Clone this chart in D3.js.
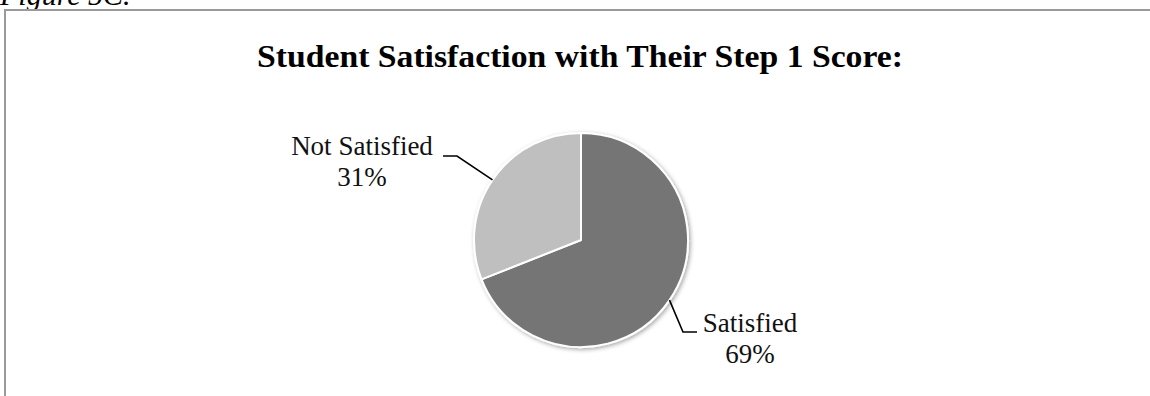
<!DOCTYPE html>
<html>
<head>
<meta charset="utf-8">
<script src="https://cdn.jsdelivr.net/npm/d3@7"></script>
<style>
  html, body { margin: 0; padding: 0; background: #fff; }
  svg { display: block; }
</style>
</head>
<body>
<svg id="chart" width="1150" height="396"></svg>
<script>
// Survey answers and their shares (percent)
const categories = ["Satisfied", "Not Satisfied"];
const shares = [69, 31];
const sliceColors = ["#757575", "#bfbfbf"];

const W = 1150, H = 396;
const cx = 581, cy = 240, radius = 107;

// Where each callout's horizontal leader ends and where its text sits
const callouts = {
  "Satisfied":     { lineEnd: [697, 332], dir: 1,  textX: 750, textY: 332 },
  "Not Satisfied": { lineEnd: [443, 156], dir: -1, textX: 362, textY: 155 }
};

const svg = d3.select("#chart");

const defs = svg.append("defs");
const shadow = defs.append("filter").attr("id", "pieShadow")
  .attr("x", "-20%").attr("y", "-20%").attr("width", "140%").attr("height", "140%");
shadow.append("feDropShadow")
  .attr("dx", 1.5).attr("dy", 1.5).attr("stdDeviation", 2.2)
  .attr("flood-color", "#000").attr("flood-opacity", 0.35);

// Caption above the frame
svg.append("text")
  .attr("x", 0).attr("y", 5)
  .attr("font-family", "'Liberation Serif', serif")
  .attr("font-style", "italic")
  .attr("font-size", 30)
  .attr("fill", "#000")
  .text("Figure 5C.");

// Frame (top and left edges)
svg.append("path")
  .attr("d", `M5,${H + 5} V10 H${W + 5}`)
  .attr("fill", "none")
  .attr("stroke", "#9a9a9a")
  .attr("stroke-width", 2);

// Title
svg.append("text")
  .attr("x", 580).attr("y", 67)
  .attr("text-anchor", "middle")
  .attr("font-family", "'Liberation Serif', serif")
  .attr("font-weight", "bold")
  .attr("font-size", 32)
  .attr("textLength", 646)
  .attr("lengthAdjust", "spacingAndGlyphs")
  .attr("fill", "#000")
  .text("Student Satisfaction with Their Step 1 Score:");

const data = categories.map((c, i) => ({ name: c, value: shares[i], color: sliceColors[i] }));

const pie = d3.pie().value(d => d.value).sort(null);
const arcs = pie(data);
const arc = d3.arc().innerRadius(0).outerRadius(radius);
const edgeArc = d3.arc().innerRadius(radius).outerRadius(radius);

const g = svg.append("g").attr("transform", `translate(${cx},${cy})`);

g.append("g").attr("filter", "url(#pieShadow)")
  .selectAll("path")
  .data(arcs)
  .join("path")
  .attr("d", arc)
  .attr("fill", d => d.data.color)
  .attr("stroke", "#fff")
  .attr("stroke-width", 2)
  .attr("stroke-linejoin", "round");

// Leader lines and labels
arcs.forEach(a => {
  const c = callouts[a.data.name];
  const start = edgeArc.centroid(a);
  const sx = cx + start[0], sy = cy + start[1];
  const [ex, ey] = c.lineEnd;
  const elbowX = ex - c.dir * 14;
  svg.append("polyline")
    .attr("points", `${sx},${sy} ${elbowX},${ey} ${ex},${ey}`)
    .attr("fill", "none")
    .attr("stroke", "#000")
    .attr("stroke-width", 1.6);

  const t = svg.append("text")
    .attr("text-anchor", "middle")
    .attr("font-family", "'Liberation Serif', serif")
    .attr("font-size", 27)
    .attr("fill", "#111");
  t.append("tspan").attr("x", c.textX).attr("y", c.textY).text(a.data.name);
  t.append("tspan").attr("x", c.textX).attr("y", c.textY + 31).text(a.data.value + "%");
});
</script>
</body>
</html>
